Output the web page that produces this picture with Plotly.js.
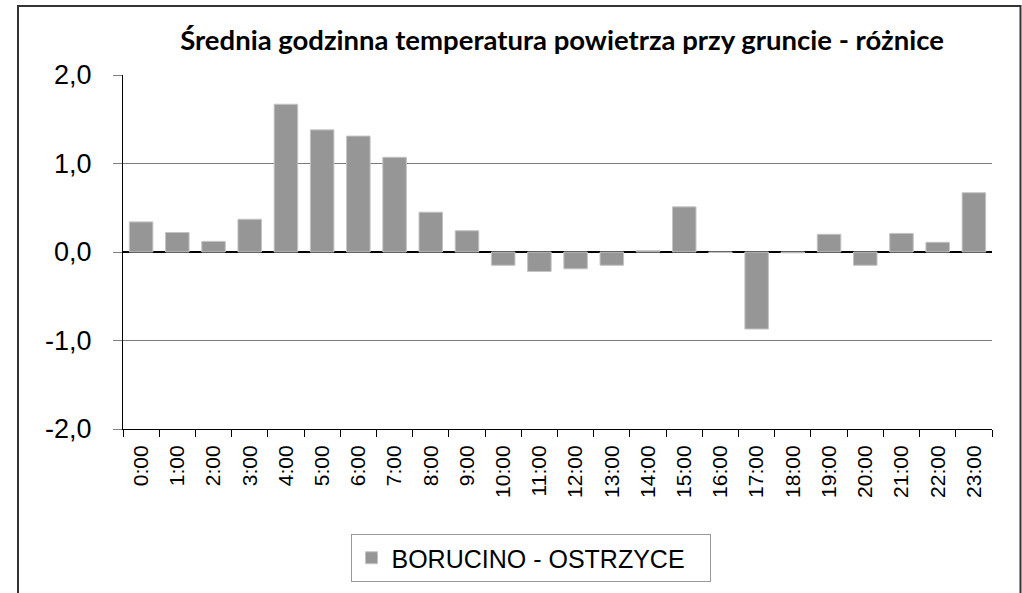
<!DOCTYPE html>
<html>
<head>
<meta charset="utf-8">
<script src="https://cdn.plot.ly/plotly-3.0.1.min.js"></script>
<style>
  html, body { margin: 0; padding: 0; background: #ffffff; }
  #chart { width: 1022px; height: 593px; }
</style>
</head>
<body>
<div id="chart"></div>
<script>
const categories = ["0:00","1:00","2:00","3:00","4:00","5:00","6:00","7:00","8:00","9:00","10:00","11:00",
                    "12:00","13:00","14:00","15:00","16:00","17:00","18:00","19:00","20:00","21:00","22:00","23:00"];
const diffValues = [0.34, 0.22, 0.12, 0.37, 1.67, 1.38, 1.31, 1.07, 0.45, 0.24, -0.15, -0.22,
                    -0.19, -0.15, 0.015, 0.51, -0.005, -0.87, -0.01, 0.20, -0.15, 0.21, 0.11, 0.67];
const seriesName = "BORUCINO - OSTRZYCE";
const chartTitle = "Średnia godzinna temperatura powietrza przy gruncie - różnice";
const yTicks = [-2, -1, 0, 1, 2];
const yTickLabels = ["-2,0", "-1,0", "0,0", "1,0", "2,0"];

const W = 1022, H = 593;
const M = {l: 123, r: 30, t: 75, b: 164, autoexpand: false};
const pw = W - M.l - M.r, ph = H - M.t - M.b;
const px = v => (v - M.l) / pw;
const py = v => (H - M.b - v) / ph;

const trace = {
  type: "bar",
  x: categories,
  y: diffValues,
  name: seriesName,
  marker: { color: "#969696", line: { color: "#c4c4c4", width: 1 } },
  showlegend: true,
  hoverinfo: "x+y"
};

const layout = {
  width: W, height: H,
  margin: M,
  separators: ", ",
  paper_bgcolor: "#ffffff",
  plot_bgcolor: "#ffffff",
  bargap: 0.35,
  title: {
    text: "<b>" + chartTitle + "</b>",
    font: { family: "Lato, Liberation Sans, sans-serif", size: 27.5, color: "#000000" },
    xref: "container", yref: "container",
    x: 562 / W, xanchor: "center",
    y: 1 - 40 / H, yanchor: "middle"
  },
  xaxis: {
    type: "category",
    automargin: false,
    tickangle: -90,
    tickson: "boundaries",
    ticks: "outside",
    ticklen: 7,
    tickcolor: "#000000",
    ticklabelstandoff: 7,
    showline: true,
    linecolor: "#000000",
    linewidth: 1,
    showgrid: false,
    tickfont: { family: "Liberation Sans, Arial, sans-serif", size: 21, color: "#000000" },
    fixedrange: true
  },
  yaxis: {
    automargin: false,
    range: [-2, 2],
    tickvals: yTicks,
    ticktext: yTickLabels,
    ticks: "outside",
    ticklen: 9,
    tickcolor: "#808080",
    ticklabelstandoff: 16,
    showline: true,
    linecolor: "#000000",
    linewidth: 1,
    showgrid: true,
    gridcolor: "#7a7a7a",
    gridwidth: 1.6,
    zeroline: true,
    zerolinecolor: "#000000",
    zerolinewidth: 1.5,
    tickfont: { family: "Liberation Sans, Arial, sans-serif", size: 27, color: "#000000" },
    fixedrange: true
  },
  showlegend: true,
  legend: {
    orientation: "h",
    xref: "container", yref: "container",
    x: 530.5 / W, xanchor: "center",
    y: 1 - 534 / H, yanchor: "top",
    bordercolor: "#999999",
    borderwidth: 1,
    bgcolor: "#ffffff",
    entrywidth: 313,
    font: { family: "Liberation Sans, Arial, sans-serif", size: 25, color: "#000000" }
  },
  shapes: [
    { type: "rect", xref: "paper", yref: "paper",
      x0: px(18), x1: px(1020.5), y0: py(610), y1: py(6),
      line: { color: "#333333", width: 2 }, fillcolor: "rgba(0,0,0,0)", layer: "above" }
  ]
};

Plotly.newPlot("chart", [trace], layout, { displayModeBar: false, staticPlot: true });
</script>
</body>
</html>
